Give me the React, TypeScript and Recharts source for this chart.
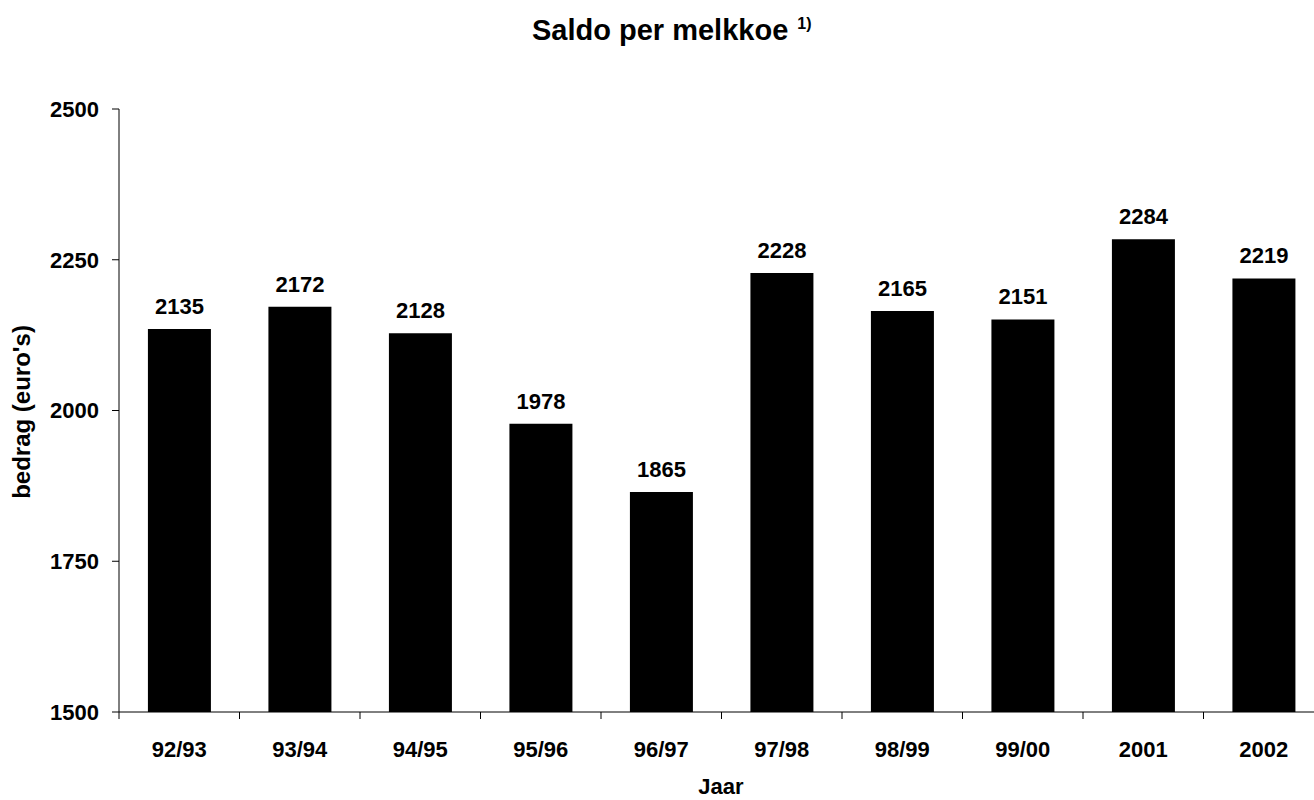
import React from 'react';
import { BarChart, Bar, XAxis, YAxis, LabelList } from 'recharts';

const categories = ['92/93', '93/94', '94/95', '95/96', '96/97', '97/98', '98/99', '99/00', '2001', '2002'];
const saldo = [2135, 2172, 2128, 1978, 1865, 2228, 2165, 2151, 2284, 2219];
const yTicks = [1500, 1750, 2000, 2250, 2500];
const title = 'Saldo per melkkoe';
const titleNote = '1)';
const yLabel = "bedrag (euro's)";
const xLabel = 'Jaar';

const data = categories.map((c, i) => ({ jaar: c, saldo: saldo[i] }));

const FONT = '"Liberation Sans", Arial, Helvetica, sans-serif';
const CHART_W = 1330;
const CHART_H = 800;
const Y_AXIS_W = 119;
const MARGIN = { top: 109, right: 6, left: 0, bottom: 0 };
const X_AXIS_H = 88;
const HALF_BAND = (CHART_W - MARGIN.right - MARGIN.left - Y_AXIS_W) / categories.length / 2;

function XTick(props: any) {
  const { x, y, payload } = props;
  const lx = x - HALF_BAND;
  return (
    <g>
      <line x1={lx} x2={lx} y1={y} y2={y + 7} stroke="#000" strokeWidth={1} />
      <text
        x={x}
        y={y + 45}
        textAnchor="middle"
        fontSize={22}
        fontWeight="bold"
        fontFamily={FONT}
        fill="#000"
      >
        {payload.value}
      </text>
    </g>
  );
}

export default function App() {
  return (
    <div
      style={{
        position: 'absolute',
        left: 0,
        top: 0,
        width: 1314,
        height: 800,
        overflow: 'hidden',
        background: '#fff',
      }}
    >
      <BarChart
        width={CHART_W}
        height={CHART_H}
        data={data}
        margin={MARGIN}
        barCategoryGap="24%"
      >
        <XAxis
          dataKey="jaar"
          height={X_AXIS_H}
          tickLine={false}
          tickSize={0}
          tickMargin={0}
          axisLine={{ stroke: '#000', strokeWidth: 1 }}
          tick={<XTick />}
          interval={0}
        />
        <YAxis
          width={Y_AXIS_W}
          domain={[1500, 2500]}
          ticks={yTicks}
          allowDataOverflow
          tickSize={7}
          tickMargin={13}
          axisLine={{ stroke: '#000', strokeWidth: 1 }}
          tickLine={{ stroke: '#000', strokeWidth: 1 }}
          tick={{ fontSize: 22, fontWeight: 'bold', fontFamily: FONT, fill: '#000' }}
        />
        <Bar dataKey="saldo" fill="#000" isAnimationActive={false}>
          <LabelList
            dataKey="saldo"
            position="top"
            offset={15}
            style={{ fontSize: 22, fontWeight: 'bold', fontFamily: FONT, fill: '#000' }}
          />
        </Bar>
      </BarChart>
      <svg
        width={1314}
        height={800}
        style={{ position: 'absolute', left: 0, top: 0, pointerEvents: 'none' }}
      >
        <text x={532} y={40} fontSize={29} fontWeight="bold" fontFamily={FONT} fill="#000">
          {title}
          <tspan dx={9} dy={-11} fontSize={16}>
            {titleNote}
          </tspan>
        </text>
        <text
          transform="translate(30,412) rotate(-90)"
          textAnchor="middle"
          fontSize={24}
          fontWeight="bold"
          fontFamily={FONT}
          fill="#000"
        >
          {yLabel}
        </text>
        <text x={721} y={794} textAnchor="middle" fontSize={22} fontWeight="bold" fontFamily={FONT} fill="#000">
          {xLabel}
        </text>
      </svg>
    </div>
  );
}
